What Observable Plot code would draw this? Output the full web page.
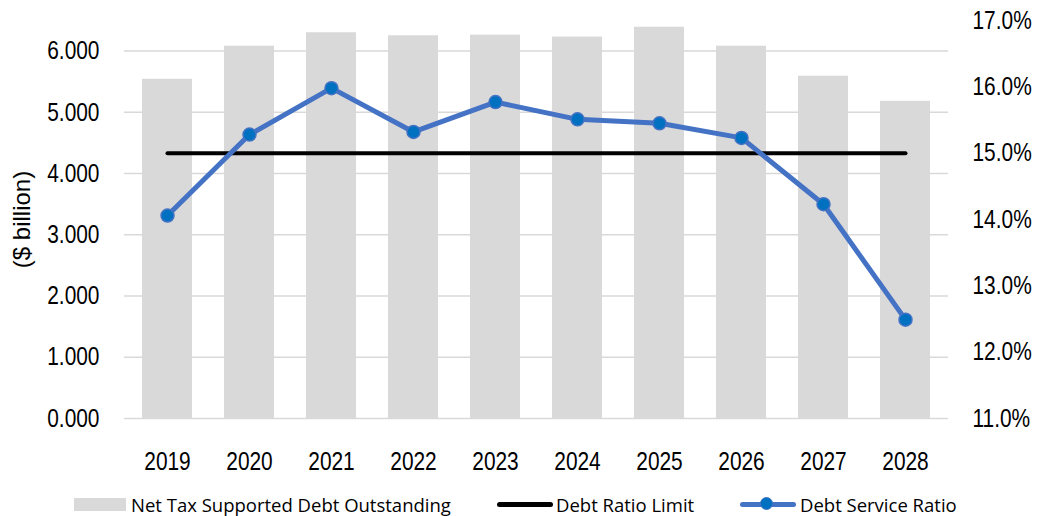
<!DOCTYPE html>
<html>
<head>
<meta charset="utf-8">
<script src="https://cdn.jsdelivr.net/npm/d3@7"></script>
<script src="https://cdn.jsdelivr.net/npm/@observablehq/plot@0.6"></script>
<style>
  html, body { margin: 0; padding: 0; background: #fff; }
  #chart { width: 1037px; height: 480px; }
  .legend { position: relative; width: 1037px; height: 36px; font-family: "Open Sans", "Noto Sans", sans-serif; font-size: 18.5px; color: #000; }
  .legend .item { position: absolute; top: 6px; height: 36px; display: flex; align-items: center; white-space: nowrap; }
  .sw-bar { width: 52px; height: 13px; background: #D9D9D9; margin-right: 5px; }
  .sw-line { width: 56px; height: 5px; background: #000; border-radius: 3px; margin-right: 3px; }
  .sw-blue { position: relative; width: 56px; height: 5px; background: #4472C4; border-radius: 3px; margin-right: 4px; }
  .sw-blue::after { content: ""; position: absolute; left: 20px; top: -4.5px; width: 13px; height: 13px; border-radius: 50%; background: #0070C0; border: 1px solid #4472C4; box-sizing: border-box; }
</style>
</head>
<body>
<div id="chart"></div>
<div class="legend">
  <div class="item" style="left:74px"><span class="sw-bar"></span><span>Net Tax Supported Debt Outstanding</span></div>
  <div class="item" style="left:497px"><span class="sw-line"></span><span>Debt Ratio Limit</span></div>
  <div class="item" style="left:740px"><span class="sw-blue"></span><span>Debt Service Ratio</span></div>
</div>
<script>
const years = ["2019","2020","2021","2022","2023","2024","2025","2026","2027","2028"];
const debtOutstanding = [5.54, 6.08, 6.30, 6.25, 6.26, 6.23, 6.39, 6.08, 5.59, 5.18];
const debtServiceRatio = [14.06, 15.28, 15.98, 15.32, 15.77, 15.51, 15.45, 15.23, 14.23, 12.49];
const debtRatioLimit = 15.0;
const leftTicks = [0, 1, 2, 3, 4, 5, 6];
const rightTicks = [11, 12, 13, 14, 15, 16, 17];
const leftDomain = [0, 6.5];
const rightDomain = [11, 17];
const yLabel = "($ billion)";

// map right-axis (%) values into the left-axis scale
const toLeft = v => (v - rightDomain[0]) / (rightDomain[1] - rightDomain[0]) * (leftDomain[1] - leftDomain[0]) + leftDomain[0];
const fromLeft = v => (v - leftDomain[0]) / (leftDomain[1] - leftDomain[0]) * (rightDomain[1] - rightDomain[0]) + rightDomain[0];

const bars = years.map((y, i) => ({year: y, value: debtOutstanding[i]}));
const ratio = years.map((y, i) => ({year: y, value: toLeft(debtServiceRatio[i])}));
const limit = years.map(y => ({year: y, value: toLeft(debtRatioLimit)}));

const tickFont = "'Liberation Sans', Arial, sans-serif";

const chart = Plot.plot({
  width: 1037,
  height: 480,
  marginTop: 20,
  marginBottom: 62,
  marginLeft: 124,
  marginRight: 89,
  style: {fontFamily: tickFont, fontSize: "25.5px", color: "#000", background: "#fff"},
  x: {domain: years, paddingInner: 0.385, paddingOuter: 0.192, label: null},
  y: {domain: leftDomain, label: null},
  marks: [
    Plot.gridY(leftTicks, {stroke: "#D9D9D9", strokeOpacity: 1, strokeWidth: 1.5}),
    Plot.barY(bars, {x: "year", y: "value", fill: "#D9D9D9"}),
    Plot.line(limit, {x: "year", y: "value", stroke: "#000", strokeWidth: 4, strokeLinecap: "round"}),
    Plot.line(ratio, {x: "year", y: "value", stroke: "#4472C4", strokeWidth: 5, strokeLinejoin: "round"}),
    Plot.dot(ratio, {x: "year", y: "value", r: 6.5, fill: "#0070C0", stroke: "#4472C4", strokeWidth: 1.5}),
    Plot.axisX({tickSize: 0, tickPadding: 33, fontSize: 25.5, label: null}),
    Plot.axisY(leftTicks, {anchor: "left", tickSize: 0, tickPadding: 25, tickFormat: d3.format(".3f"), fontSize: 25.5, label: null}),
    Plot.axisY(rightTicks.map(toLeft), {anchor: "right", tickSize: 0, tickPadding: 24, tickFormat: v => fromLeft(v).toFixed(1) + "%", fontSize: 25.5, label: null}),
    Plot.text([yLabel], {frameAnchor: "left", textAnchor: "middle", rotate: -90, dx: -102, fontSize: 24, fontFamily: tickFont, fill: "#000"})
  ]
});

// condense tick labels horizontally to mimic a narrow typeface
chart.querySelectorAll("g[aria-label$='tick label'] text").forEach(t => {
  const tr = t.getAttribute("transform") || "";
  t.setAttribute("transform", (tr + " scale(0.82,1)").trim());
});

document.getElementById("chart").appendChild(chart);
</script>
</body>
</html>
